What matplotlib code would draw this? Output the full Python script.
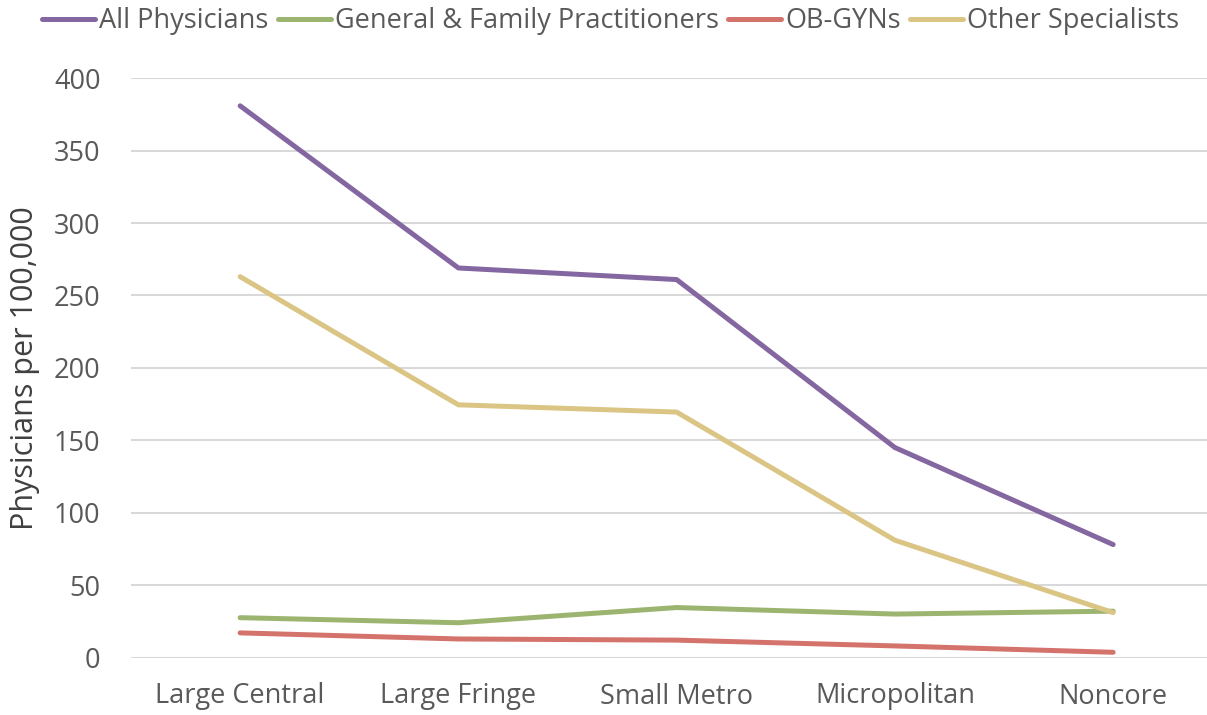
import matplotlib
matplotlib.use("Agg")
import matplotlib.pyplot as plt

categories = ["Large Central", "Large Fringe", "Small Metro", "Micropolitan", "Noncore"]
all_physicians = [381, 269, 261, 145, 78]
general_family = [27.5, 24, 34.5, 30, 32]
ob_gyns = [17, 12.8, 12, 8, 3.6]
other_specialists = [263, 174.5, 169.5, 81, 31]

series_names = ["All Physicians", "General & Family Practitioners", "OB-GYNs", "Other Specialists"]
series_values = [all_physicians, general_family, ob_gyns, other_specialists]
colors = ["#8467A1", "#9BB46F", "#D4736C", "#DBC585"]

plt.rcParams['font.family'] = ['Open Sans', 'DejaVu Sans']

W, H = 1207, 715
fig = plt.figure(figsize=(W / 100, H / 100), dpi=100)
left, right = 131, 1207
top, bottom = 78.3, 657.5
ax = fig.add_axes([left / W, 1 - bottom / H, (right - left) / W, (bottom - top) / H])

x = list(range(len(categories)))
handles = []
for name, vals, c in zip(series_names, series_values, colors):
    h, = ax.plot(x, vals, color=c, lw=3.6, solid_capstyle='round', solid_joinstyle='round', label=name)
    handles.append(h)

ax.set_xlim(-0.5, 4.43)
ax.set_ylim(0, 400)
ax.set_yticks(range(0, 401, 50))
ax.set_xticks(x)
ax.set_xticklabels(categories)
ax.grid(axis='y', color='#D9D9D9', lw=1.5)
ax.set_axisbelow(True)
for s in ax.spines.values():
    s.set_visible(False)
ax.tick_params(axis='both', length=0, labelsize=19.5, colors='#595959')
ax.tick_params(axis='y', pad=22)
ax.tick_params(axis='x', pad=18)
ax.set_ylabel("Physicians per 100,000", fontsize=22, color='#404040', labelpad=10)

fig.legend(handles=handles, loc='upper center', bbox_to_anchor=(0.506, 1.024), ncol=4,
           frameon=False, fontsize=19.5, handlelength=1.95, handletextpad=0.15,
           columnspacing=0.35, labelcolor='#595959')

fig.savefig("out.png", dpi=100)
